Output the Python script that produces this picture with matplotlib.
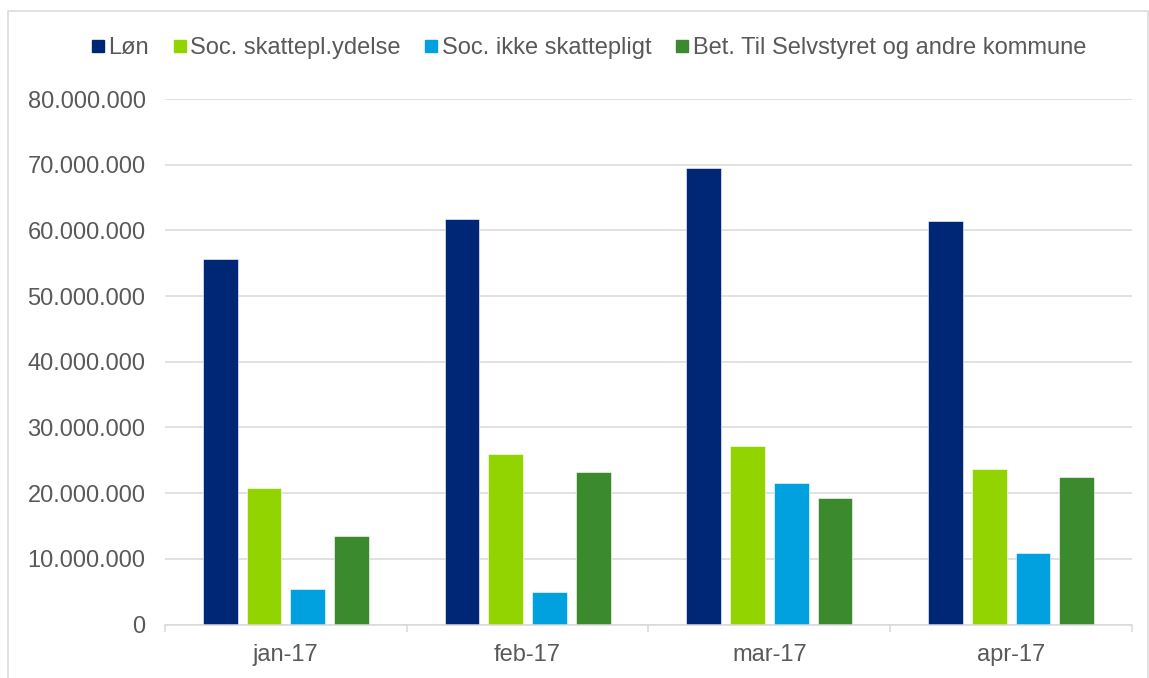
import numpy as np
import matplotlib
matplotlib.use("Agg")
import matplotlib.pyplot as plt
from matplotlib.ticker import FuncFormatter
from matplotlib.patches import Rectangle
from matplotlib.lines import Line2D

# data
months = ["jan-17", "feb-17", "mar-17", "apr-17"]
series = ["Løn", "Soc. skattepl.ydelse", "Soc. ikke skattepligt",
          "Bet. Til Selvstyret og andre kommune"]
loen = [55.6e6, 61.7e6, 69.5e6, 61.4e6]
soc_skat = [20.8e6, 26.0e6, 27.2e6, 23.7e6]
soc_ikke = [5.4e6, 5.0e6, 21.5e6, 10.9e6]
bet = [13.4e6, 23.2e6, 19.3e6, 22.4e6]
colors = ["#002776", "#92D400", "#00A1DE", "#3C8A2E"]

plt.rcParams["font.family"] = ["Liberation Sans", "DejaVu Sans"]
txt = "#595959"
grid = "#d9d9d9"

fig = plt.figure(figsize=(11.49, 6.78), dpi=100)
ax = fig.add_axes([165/1149, 1 - 624.5/678, (1132-165)/1149, (624.5-99)/678])

x = np.arange(len(months))
step = 0.181
width = 0.143
for i, (vals, col) in enumerate(zip([loen, soc_skat, soc_ikke, bet], colors)):
    ax.bar(x + (i - 1.5)*step, vals, width, color=col, zorder=3,
           edgecolor="white", linewidth=0.4)

ax.set_xlim(-0.5, 3.5)
ax.set_ylim(0, 80e6)
ax.set_yticks(np.arange(0, 80e6 + 1, 10e6))
ax.yaxis.set_major_formatter(FuncFormatter(lambda v, p: f"{int(v):,}".replace(",", ".")))
ax.set_xticks(x)
ax.set_xticklabels(months)
ax.set_xticks(np.arange(-0.5, 4, 1), minor=True)
ax.tick_params(axis="y", length=0, pad=14, labelsize=17, labelcolor=txt)
ax.tick_params(axis="x", which="major", length=0, pad=14, labelsize=17, labelcolor=txt)
ax.tick_params(axis="x", which="minor", length=5, width=1.1, color=grid)
ax.grid(axis="y", color=grid, linewidth=1.1, zorder=0)
for s in ["top", "right", "left"]:
    ax.spines[s].set_visible(False)
ax.spines["bottom"].set_color(grid)
ax.spines["bottom"].set_linewidth(1.1)
ax.spines["bottom"].set_zorder(4)

handles = [Line2D([], [], marker="s", linestyle="none", markersize=8,
                  markerfacecolor=c, markeredgecolor=c) for c in colors]
fig.legend(handles, series, loc="center", bbox_to_anchor=(589/1149, 1 - 48/678),
           ncol=4, frameon=False, fontsize=17, labelcolor=txt,
           handlelength=0.5, handletextpad=0.2, columnspacing=1.05)

# light frame around the chart
fig.patches.append(Rectangle((8/1149, -0.02), (1148-8)/1149, 1 - 11/678 + 0.02,
                             transform=fig.transFigure, fill=False,
                             edgecolor=grid, linewidth=1.1))

fig.savefig("out.png", dpi=100)
